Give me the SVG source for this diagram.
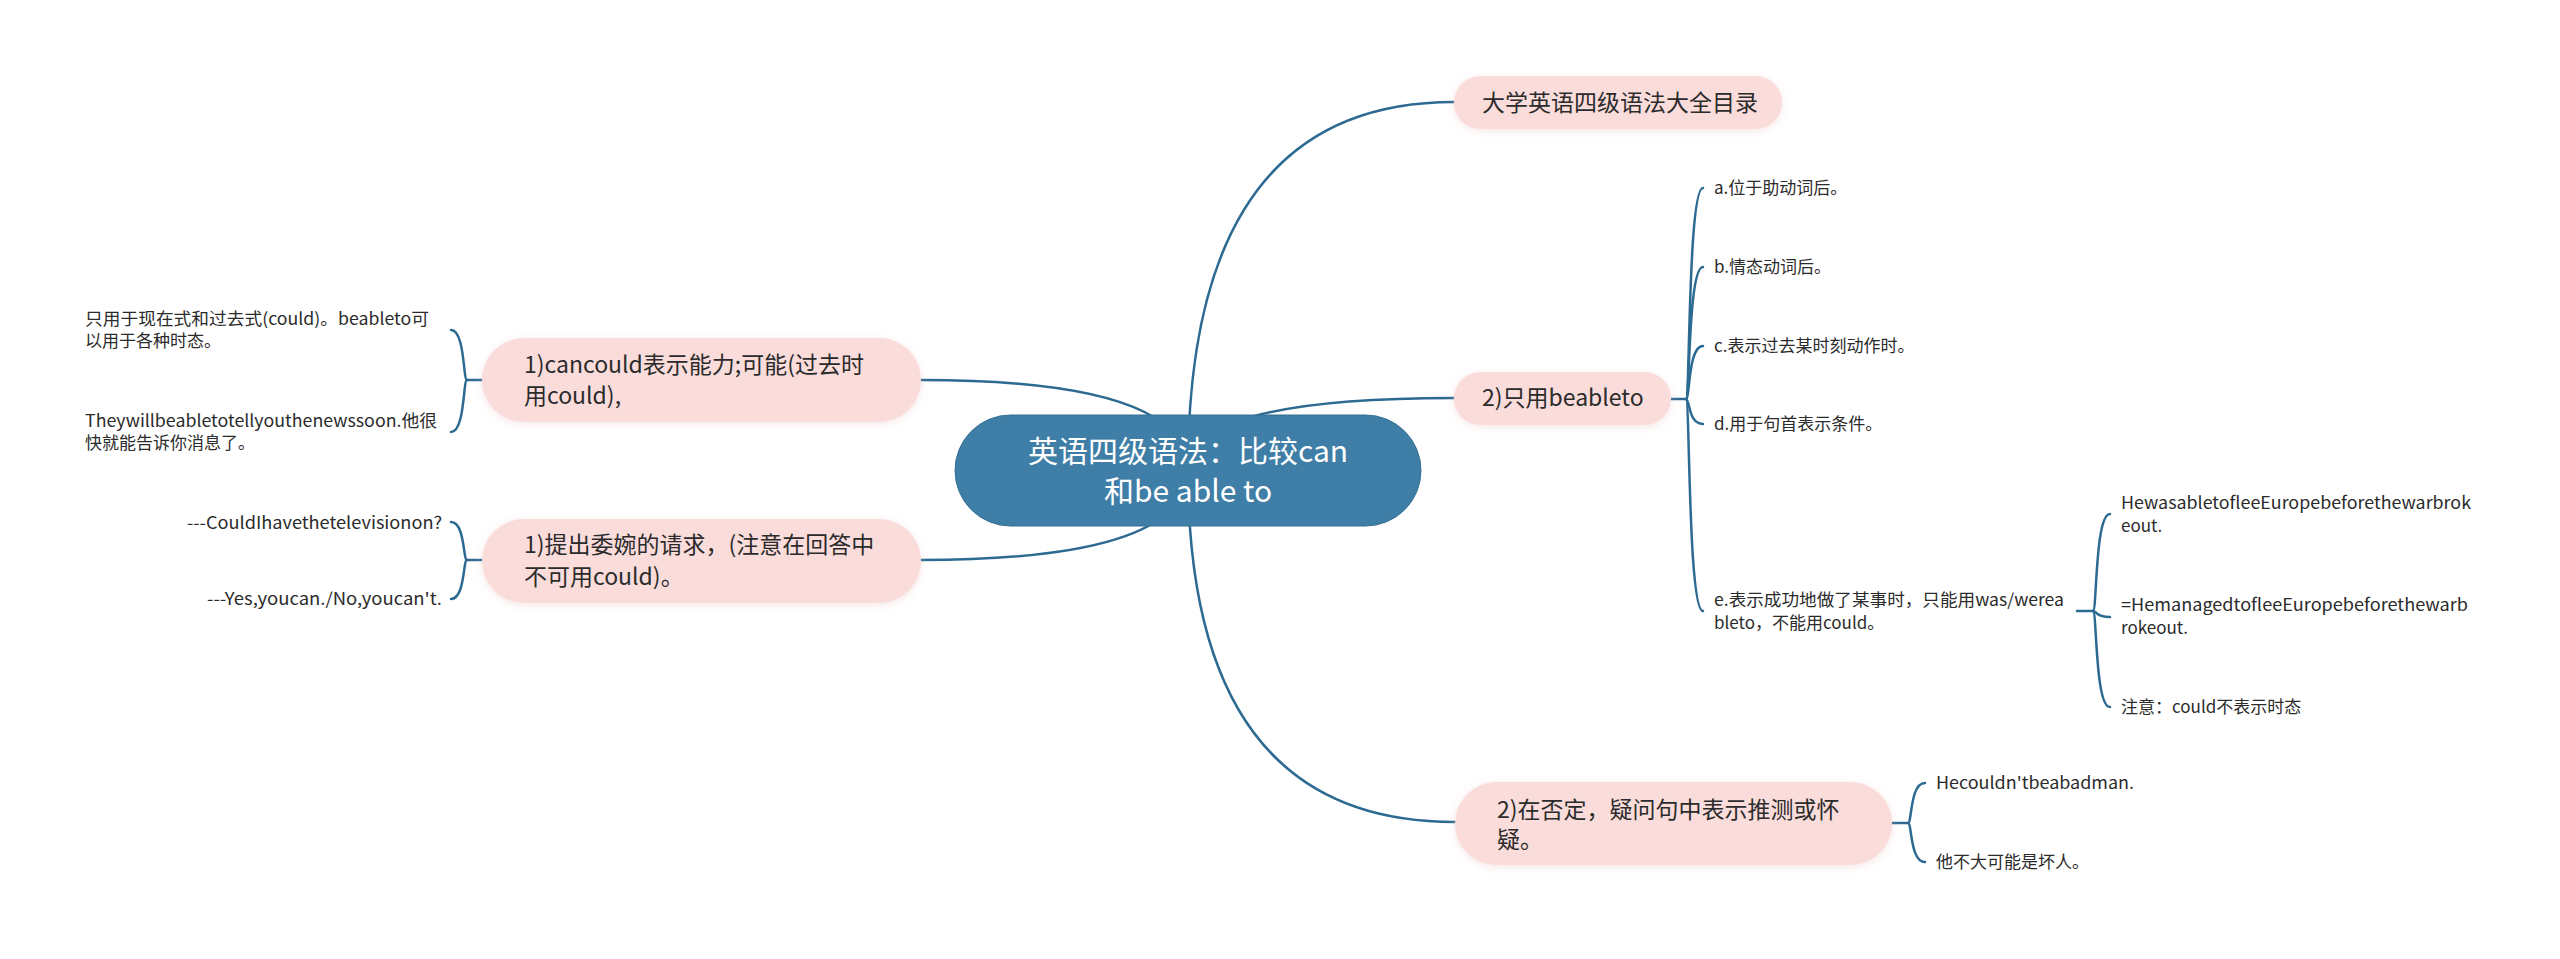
<svg xmlns="http://www.w3.org/2000/svg" width="2560" height="959" viewBox="0 0 2560 959">
<defs>
<filter id="sh" x="-10%" y="-30%" width="120%" height="160%">
<feGaussianBlur in="SourceAlpha" stdDeviation="4"/>
<feOffset dy="2" result="b"/>
<feFlood flood-color="#e8b8b8" flood-opacity="0.35"/>
<feComposite in2="b" operator="in"/>
<feMerge><feMergeNode/><feMergeNode in="SourceGraphic"/></feMerge>
</filter>
</defs>
<style>
.bg{fill:#ffffff}
.main{fill:#3f7ea6;stroke:#356f95;stroke-width:1}
.sub{fill:#fadcdb}
.line{fill:none;stroke:#2d6a92;stroke-width:2.5;stroke-linecap:round}
.br{fill:none;stroke:#2d6a92;stroke-width:2.5;stroke-linecap:round}
text{font-family:"Noto Sans CJK SC","Microsoft YaHei","Noto Sans",sans-serif;fill:#2b2b2b}
.t0{font-size:30px;fill:#ffffff}
.t1{font-size:23px}
.t2{font-size:17px}
</style>
<rect class="bg" x="0" y="0" width="2560" height="959"/>
<g id="connectors">
<path class="line" d="M1188 470 Q1188 102 1454 102"/>
<path class="line" d="M1188 470 Q1188 398 1454 398"/>
<path class="line" d="M1188 470 Q1188 822 1455 822"/>
<path class="line" d="M1188 470 Q1188 380 921 380"/>
<path class="line" d="M1188 470 Q1188 560 921 560"/>
<path class="br" d="M1671 399 H1686"/>
<path class="br" d="M1686 399 C1690 399 1688 188 1703 188"/>
<path class="br" d="M1686 399 C1690 399 1688 267 1703 267"/>
<path class="br" d="M1686 399 C1690 399 1688 346 1703 346"/>
<path class="br" d="M1686 399 C1690 399 1688 424 1703 424"/>
<path class="br" d="M1686 399 C1690 399 1688 611 1703 611"/>
<path class="br" d="M2077 611 H2093"/>
<path class="br" d="M2093 611 C2097 611 2095 514 2110 514"/>
<path class="br" d="M2093 611 C2097 611 2095 617 2110 617"/>
<path class="br" d="M2093 611 C2097 611 2095 707 2110 707"/>
<path class="br" d="M1892 823 H1908"/>
<path class="br" d="M1908 823 C1912 823 1910 783 1925 783"/>
<path class="br" d="M1908 823 C1912 823 1910 862 1925 862"/>
<path class="br" d="M482 380 H467"/>
<path class="br" d="M467 380 C463 380 465 330 451 330"/>
<path class="br" d="M467 380 C463 380 465 432 451 432"/>
<path class="br" d="M482 560 H467"/>
<path class="br" d="M467 560 C463 560 465 522 451 522"/>
<path class="br" d="M467 560 C463 560 465 599 451 599"/>
</g>
<g id="center">
<rect class="main" x="955" y="415" width="466" height="111" rx="55.5"/>
<text class="t0" x="1188" y="462" text-anchor="middle">英语四级语法：比较can</text>
<text class="t0" x="1188" y="502" text-anchor="middle">和be able to</text>
</g>
<g id="n-top">
<rect class="sub" filter="url(#sh)" x="1454" y="76" width="328" height="53" rx="26.5"/>
<text class="t1" x="1482" y="111">大学英语四级语法大全目录</text>
</g>
<g id="n-beableto">
<rect class="sub" filter="url(#sh)" x="1454" y="372" width="217" height="53" rx="26.5"/>
<text class="t1" x="1482" y="406">2)只用beableto</text>
</g>
<g id="n-a"><text class="t2" x="1714" y="194">a.位于助动词后。</text></g>
<g id="n-b"><text class="t2" x="1714" y="273">b.情态动词后。</text></g>
<g id="n-c"><text class="t2" x="1714" y="352">c.表示过去某时刻动作时。</text></g>
<g id="n-d"><text class="t2" x="1714" y="430">d.用于句首表示条件。</text></g>
<g id="n-e">
<text class="t2" x="1714" y="606" textLength="350" lengthAdjust="spacingAndGlyphs">e.表示成功地做了某事时，只能用was/werea</text>
<text class="t2" x="1714" y="629">bleto，不能用could。</text>
</g>
<g id="n-e1">
<text class="t2" x="2121" y="509" textLength="350" lengthAdjust="spacingAndGlyphs">HewasabletofleeEuropebeforethewarbrok</text>
<text class="t2" x="2121" y="532">eout.</text>
</g>
<g id="n-e2">
<text class="t2" x="2121" y="611" textLength="347" lengthAdjust="spacingAndGlyphs">=HemanagedtofleeEuropebeforethewarb</text>
<text class="t2" x="2121" y="634">rokeout.</text>
</g>
<g id="n-e3"><text class="t2" x="2121" y="713">注意：could不表示时态</text></g>
<g id="n-neg">
<rect class="sub" filter="url(#sh)" x="1455" y="782" width="437" height="83" rx="41.5"/>
<text class="t1" x="1497" y="818">2)在否定，疑问句中表示推测或怀</text>
<text class="t1" x="1497" y="848">疑。</text>
</g>
<g id="n-neg1"><text class="t2" x="1936" y="789" textLength="198" lengthAdjust="spacingAndGlyphs">Hecouldn'tbeabadman.</text></g>
<g id="n-neg2"><text class="t2" x="1936" y="868">他不大可能是坏人。</text></g>
<g id="n-can">
<rect class="sub" filter="url(#sh)" x="482" y="338" width="439" height="84" rx="42"/>
<text class="t1" x="524" y="373">1)cancould表示能力;可能(过去时</text>
<text class="t1" x="524" y="404">用could),</text>
</g>
<g id="n-can1">
<text class="t2" x="85" y="325" textLength="344" lengthAdjust="spacingAndGlyphs">只用于现在式和过去式(could)。beableto可</text>
<text class="t2" x="85" y="347">以用于各种时态。</text>
</g>
<g id="n-can2">
<text class="t2" x="85" y="427" textLength="352" lengthAdjust="spacingAndGlyphs">Theywillbeabletotellyouthenewssoon.他很</text>
<text class="t2" x="85" y="449">快就能告诉你消息了。</text>
</g>
<g id="n-req">
<rect class="sub" filter="url(#sh)" x="482" y="519" width="439" height="84" rx="42"/>
<text class="t1" x="524" y="553">1)提出委婉的请求，(注意在回答中</text>
<text class="t1" x="524" y="585">不可用could)。</text>
</g>
<g id="n-req1"><text class="t2" x="442" y="529" text-anchor="end" textLength="255" lengthAdjust="spacingAndGlyphs">---CouldIhavethetelevisionon?</text></g>
<g id="n-req2"><text class="t2" x="442" y="605" text-anchor="end" textLength="235" lengthAdjust="spacingAndGlyphs">---Yes,youcan./No,youcan't.</text></g>
</svg>
